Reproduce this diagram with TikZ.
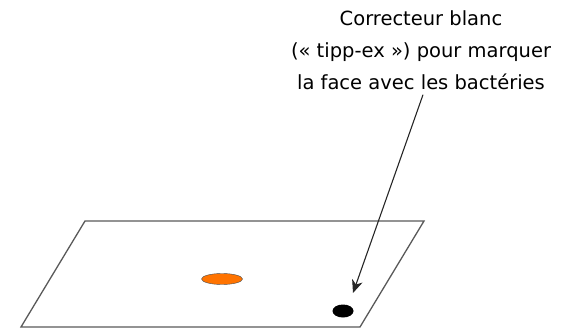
\documentclass[tikz,border=0pt]{standalone}
\usepackage{fontspec}
\setmainfont{DejaVu Sans}
\usetikzlibrary{arrows.meta,shapes.geometric}

\begin{document}
\begin{tikzpicture}[x=1pt,y=-1pt]
    \useasboundingbox (0,0) rectangle (584,329);
    % Slide seen in perspective
    \draw[line width=1.3pt,black!65] (21,327) -- (85,221) -- (424,221) -- (360,327) -- cycle;
    % Bacteria
    \node[ellipse,draw=black!70,fill=orange!90!red,minimum width=41pt,minimum height=11pt,inner sep=0pt] (bact) at (222,279) {};
    % Tipp-ex mark
    \node[ellipse,fill=black,minimum width=21pt,minimum height=13pt,inner sep=0pt] (mark) at (343,311) {};
    \coordinate (tip) at (353,293);
    % Label and arrow
    \node[align=center,font=\fontsize{19.5}{32}\selectfont,inner sep=2pt] (note) at (421,50) {Correcteur blanc\\(« tipp-ex ») pour marquer\\la face avec les bactéries};
    \draw[-{Stealth[length=13pt,width=11pt,inset=4pt]},line width=1.1pt,black!85] ([xshift=2pt,yshift=-3pt]note.south) -- (tip);
\end{tikzpicture}
\end{document}
